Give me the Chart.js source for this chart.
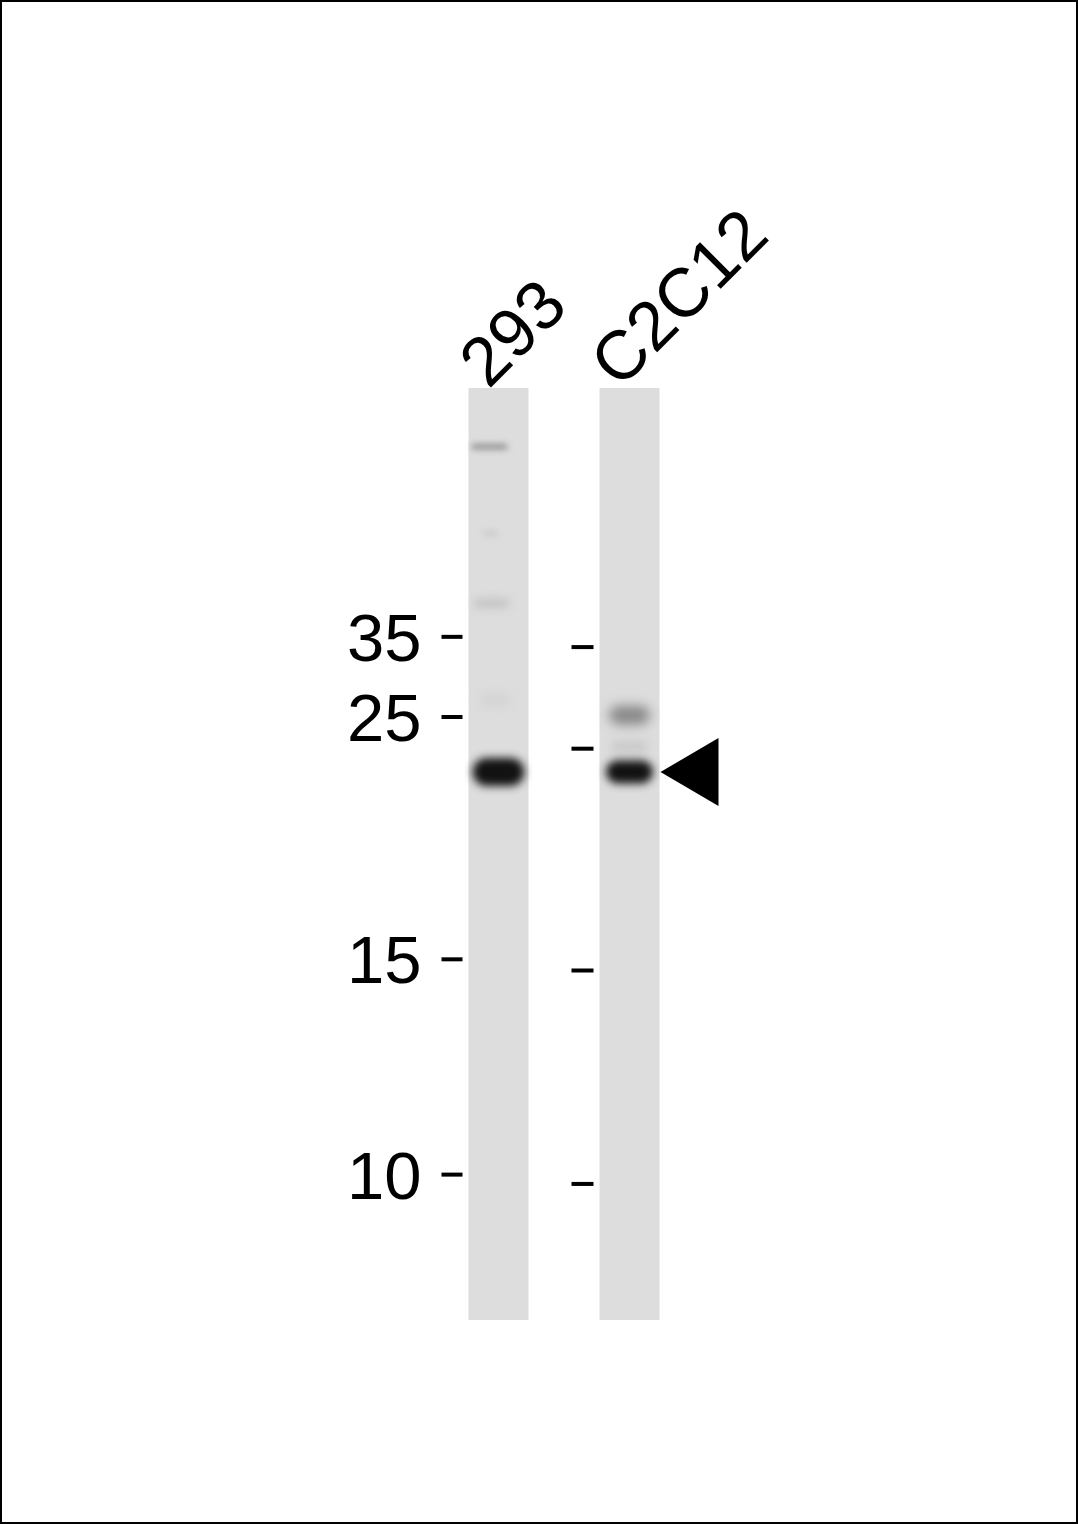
<!DOCTYPE html>
<html>
<head>
<meta charset="utf-8">
<script src="https://cdn.jsdelivr.net/npm/chart.js@4.4.1/dist/chart.umd.min.js"></script>
<style>
  html, body { margin: 0; padding: 0; background: #fff; }
  #wrap { width: 1078px; height: 1524px; position: relative; }
</style>
</head>
<body>
<div id="wrap"><canvas id="blot" width="1078" height="1524"></canvas></div>
<script>
// lanes of the blot
const lanes = ['293', 'C2C12'];

// marker positions, as relative migration (0 = top of lane, 1 = bottom)
const markerLabels = ['35', '25', '15', '10'];
const markerRf293 = [0.267, 0.353, 0.613, 0.844];
const markerRfC2C12 = [0.278, 0.387, 0.625, 0.854];

// bands: which lane, where, how dark (0..1)
const bandLane = [0, 0, 0, 0, 0, 1, 1, 1];
const bandRf = [0.063, 0.156, 0.231, 0.335, 0.412, 0.351, 0.385, 0.412];
const bandDensity = [0.42, 0.1, 0.13, 0.05, 1.0, 0.42, 0.1, 1.0];

// the band that the arrow points at
const arrowLane = 1;
const arrowRf = 0.412;

// looks of each band (width as part of lane, height px, x shift px, blur px)
const bandLook = [
    { w: 0.6, h: 5, dx: -9, blur: 3 },
    { w: 0.25, h: 5, dx: -8, blur: 3 },
    { w: 0.6, h: 9, dx: -7, blur: 4 },
    { w: 0.5, h: 12, dx: -3, blur: 5 },
    { w: 0.86, h: 28, dx: 0, blur: 4 },
    { w: 0.68, h: 19, dx: 0, blur: 6 },
    { w: 0.62, h: 12, dx: 0, blur: 5 },
    { w: 0.78, h: 23, dx: 0, blur: 4 }
];

const grey = (d) => {
    const v = Math.round(221 - d * (221 - 18));
    return `rgb(${v},${v},${v})`;
};

const blotPlugin = {
    id: 'blot',
    beforeDraw(chart) {
        const ctx = chart.ctx;
        ctx.save();
        ctx.fillStyle = '#fff';
        ctx.fillRect(0, 0, chart.width, chart.height);
        ctx.restore();
    },
    afterDatasetsDraw(chart) {
        const { ctx, scales: { y } } = chart;
        const bars = chart.getDatasetMeta(0).data;
        const top = y.getPixelForValue(0);

        // bands
        bandRf.forEach((rf, i) => {
            const bar = bars[bandLane[i]];
            const look = bandLook[i];
            const w = bar.width * look.w;
            const cx = bar.x + look.dx;
            const cy = y.getPixelForValue(rf);
            ctx.save();
            ctx.filter = `blur(${look.blur}px)`;
            ctx.fillStyle = grey(bandDensity[i]);
            ctx.beginPath();
            ctx.roundRect(cx - w / 2, cy - look.h / 2, w, look.h, look.h / 2);
            ctx.fill();
            ctx.restore();
        });

        // marker ticks and labels
        ctx.save();
        ctx.fillStyle = '#000';
        const left293 = bars[0].x - bars[0].width / 2;
        const leftC2 = bars[1].x - bars[1].width / 2;
        markerRf293.forEach((rf, i) => {
            const py = y.getPixelForValue(rf);
            ctx.fillRect(left293 - 27, py - 2, 21, 4);
            ctx.font = '67px "Liberation Sans", Arial, sans-serif';
            ctx.textAlign = 'right';
            ctx.textBaseline = 'alphabetic';
            ctx.fillText(markerLabels[i], left293 - 47, py + 24);
        });
        markerRfC2C12.forEach((rf) => {
            const py = y.getPixelForValue(rf);
            ctx.fillRect(leftC2 - 28, py - 2, 22, 4);
        });

        // arrow
        const ab = bars[arrowLane];
        const ay = y.getPixelForValue(arrowRf);
        const tipX = ab.x + ab.width / 2 + 1;
        ctx.beginPath();
        ctx.moveTo(tipX, ay);
        ctx.lineTo(tipX + 58, ay - 34);
        ctx.lineTo(tipX + 58, ay + 34);
        ctx.closePath();
        ctx.fill();

        // lane names, slanted
        ctx.font = '69px "Liberation Sans", Arial, sans-serif';
        ctx.textAlign = 'left';
        ctx.textBaseline = 'alphabetic';
        chart.data.labels.forEach((name, i) => {
            ctx.save();
            ctx.translate(bars[i].x - 10, top + 2);
            ctx.rotate(-Math.PI / 4);
            ctx.fillText(name, 0, 0);
            ctx.restore();
        });

        // frame
        ctx.lineWidth = 2;
        ctx.strokeStyle = '#000';
        ctx.strokeRect(1, 1, chart.width - 2, chart.height - 2);
        ctx.restore();
    }
};

new Chart(document.getElementById('blot'), {
    type: 'bar',
    data: {
        labels: lanes,
        datasets: [{
            label: 'lane',
            data: lanes.map(() => [0, 1]),
            backgroundColor: '#dddddd',
            borderWidth: 0,
            barPercentage: 0.458,
            categoryPercentage: 1
        }]
    },
    options: {
        responsive: false,
        animation: false,
        devicePixelRatio: 1,
        layout: {
            padding: { top: 388, bottom: 204, left: 433, right: 383 }
        },
        scales: {
            x: { display: false, offset: true },
            y: { display: false, min: 0, max: 1, reverse: true }
        },
        plugins: {
            legend: { display: false },
            tooltip: { enabled: false }
        }
    },
    plugins: [blotPlugin]
});
</script>
</body>
</html>
